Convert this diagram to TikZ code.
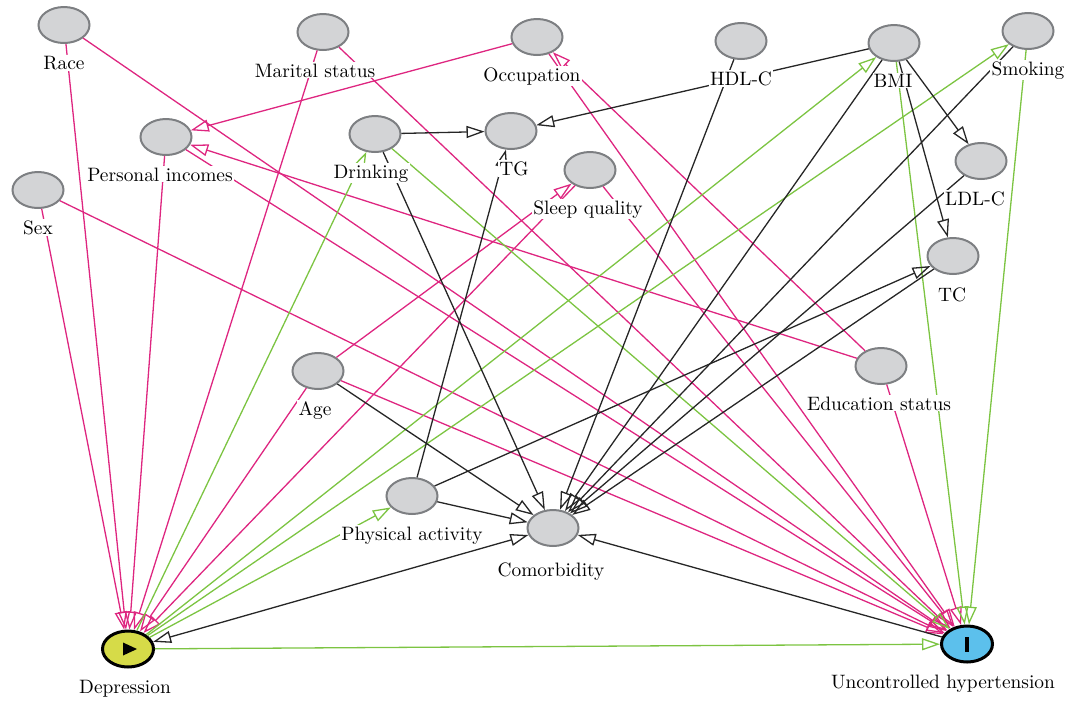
\documentclass[tikz,border=0pt]{standalone}
\usepackage{tikz}
\usetikzlibrary{shapes.geometric,arrows.meta}
\definecolor{biaspink}{RGB}{222,38,128}
\definecolor{causalgreen}{RGB}{124,196,66}
\definecolor{nodegray}{RGB}{211,212,214}
\definecolor{rimgray}{RGB}{125,127,130}
\definecolor{expyellow}{RGB}{214,219,72}
\definecolor{outblue}{RGB}{92,192,236}

\begin{document}
\begin{tikzpicture}[x=0.5pt, y=-0.5pt,
    var/.style={ellipse, draw=rimgray, line width=1pt, fill=nodegray, minimum width=25.5pt, minimum height=18pt, inner sep=0pt},
    lbl/.style={fill=white, inner sep=0.6pt, anchor=base, font=\fontsize{9.7}{11.6}\selectfont},
    >={Triangle[open, length=9pt, width=6pt]},
    bias/.style={->, draw=biaspink, line width=0.65pt},
    causal/.style={->, draw=causalgreen, line width=0.65pt},
    other/.style={->, draw=black!85, line width=0.65pt}]
            \useasboundingbox (0,0) rectangle (1071,703);
            % Nodes
            \node[var] (race) at (64,25) {};
            \node[var] (marital) at (323,32) {};
            \node[var] (occ) at (537,37) {};
            \node[var] (hdl) at (741,41) {};
            \node[var] (bmi) at (894,43) {};
            \node[var] (smoke) at (1028,31) {};
            \node[var] (inc) at (166,137) {};
            \node[var] (drink) at (375,134) {};
            \node[var] (tg) at (511,131) {};
            \node[var] (sleep) at (590,170) {};
            \node[var] (sex) at (38,190) {};
            \node[var] (ldl) at (981,161) {};
            \node[var] (tc) at (953,256) {};
            \node[var] (age) at (318,371) {};
            \node[var] (edu) at (881,366) {};
            \node[var] (pa) at (412,496) {};
            \node[var] (com) at (553,528) {};
            \node[var, fill=expyellow, draw=black, line width=1.5pt] (dep) at (128,649) {};
            \node[var, fill=outblue, draw=black, line width=1.5pt] (uh) at (967,644) {};
            \fill ([xshift=-2.5pt,yshift=3.25pt]dep.center) -- ++(7pt,-3.25pt) -- ++(-7pt,-3.25pt) -- cycle;
            \fill ([xshift=-1pt,yshift=-3.75pt]uh.center) rectangle ++(2pt,7.5pt);
            % Edges
            \draw[bias] (race) -- (dep);
            \draw[bias] (race) -- (uh);
            \draw[bias] (sex) -- (dep);
            \draw[bias] (sex) -- (uh);
            \draw[bias] (marital) -- (dep);
            \draw[bias] (marital) -- (uh);
            \draw[bias] (inc) -- (dep);
            \draw[bias] (inc) -- (uh);
            \draw[bias] (occ) -- (inc);
            \draw[bias] (occ) -- (uh);
            \draw[bias] (edu) -- (inc);
            \draw[bias] (edu) -- (occ);
            \draw[bias] (edu) -- (uh);
            \draw[bias] (age) -- (dep);
            \draw[bias] (age) -- (sleep);
            \draw[bias] (age) -- (uh);
            \draw[bias] (sleep) -- (dep);
            \draw[bias] (sleep) -- (uh);
            \draw[causal] (dep) -- (drink);
            \draw[causal] (dep) -- (pa);
            \draw[causal] (dep) -- (bmi);
            \draw[causal] (dep) -- (smoke);
            \draw[causal] (dep) -- (uh);
            \draw[causal] (drink) -- (uh);
            \draw[causal] (bmi) -- (uh);
            \draw[causal] (smoke) -- (uh);
            \draw[other] (drink) -- (tg);
            \draw[other] (bmi) -- (tg);
            \draw[other] (bmi) -- (ldl);
            \draw[other] (bmi) -- (tc);
            \draw[other] (pa) -- (tg);
            \draw[other] (pa) -- (tc);
            \draw[other] (drink) -- (com);
            \draw[other] (hdl) -- (com);
            \draw[other] (bmi) -- (com);
            \draw[other] (smoke) -- (com);
            \draw[other] (ldl) -- (com);
            \draw[other] (tc) -- (com);
            \draw[other] (age) -- (com);
            \draw[other] (pa) -- (com);
            \draw[other, <->] (dep) -- (com);
            \draw[other] (uh) -- (com);
            % Labels
            \node[lbl] (race-l) at ([yshift=-22pt]race.center) {Race};
            \node[lbl] (marital-l) at ([xshift=-4pt,yshift=-22.5pt]marital.center) {Marital status};
            \node[lbl] (occ-l) at ([xshift=-2.5pt,yshift=-22pt]occ.center) {Occupation};
            \node[lbl] (hdl-l) at ([yshift=-22pt]hdl.center) {HDL-C};
            \node[lbl] (bmi-l) at ([xshift=-0.5pt,yshift=-22pt]bmi.center) {BMI};
            \node[lbl] (smoke-l) at ([yshift=-22pt]smoke.center) {Smoking};
            \node[lbl] (inc-l) at ([xshift=-3pt,yshift=-22pt]inc.center) {Personal incomes};
            \node[lbl] (drink-l) at ([xshift=-2pt,yshift=-22pt]drink.center) {Drinking};
            \node[lbl] (tg-l) at ([xshift=1.5pt,yshift=-22pt]tg.center) {TG};
            \node[lbl] (sleep-l) at ([xshift=-1pt,yshift=-22pt]sleep.center) {Sleep quality};
            \node[lbl] (sex-l) at ([yshift=-22pt]sex.center) {Sex};
            \node[lbl] (ldl-l) at ([xshift=-3pt,yshift=-22pt]ldl.center) {LDL-C};
            \node[lbl] (tc-l) at ([xshift=-0.5pt,yshift=-22.5pt]tc.center) {TC};
            \node[lbl] (age-l) at ([xshift=-1.5pt,yshift=-22pt]age.center) {Age};
            \node[lbl] (edu-l) at ([xshift=-1pt,yshift=-22pt]edu.center) {Education status};
            \node[lbl] (pa-l) at ([yshift=-22pt]pa.center) {Physical activity};
            \node[lbl] (com-l) at ([xshift=-1pt,yshift=-24pt]com.center) {Comorbidity};
            \node[lbl] (dep-l) at ([xshift=-1.5pt,yshift=-22pt]dep.center) {Depression};
            \node[lbl] (uh-l) at ([xshift=-12pt,yshift=-22pt]uh.center) {Uncontrolled hypertension};
        \end{tikzpicture}
\end{document}
